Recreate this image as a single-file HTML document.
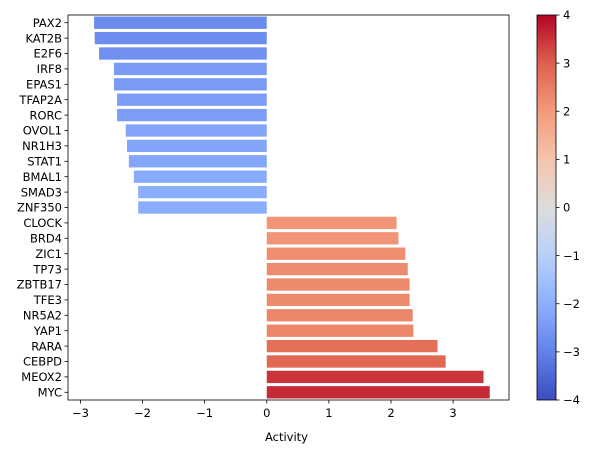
<!DOCTYPE html>
<html><head><meta charset="utf-8"><style>
body{margin:0;background:#fff;}
svg{font-family:"DejaVu Sans","Liberation Sans",sans-serif;}
</style></head><body>
<svg id="chart" width="595" height="453" xmlns="http://www.w3.org/2000/svg">
<defs><linearGradient id="cb" x1="0" y1="1" x2="0" y2="0">
<stop offset="0" stop-color="rgb(59,76,192)"/><stop offset="0.125" stop-color="rgb(98,130,234)"/>
<stop offset="0.25" stop-color="rgb(141,176,254)"/><stop offset="0.375" stop-color="rgb(184,208,249)"/>
<stop offset="0.5" stop-color="rgb(221,221,221)"/><stop offset="0.625" stop-color="rgb(245,196,173)"/>
<stop offset="0.75" stop-color="rgb(244,154,123)"/><stop offset="0.875" stop-color="rgb(222,96,77)"/>
<stop offset="1" stop-color="rgb(180,4,38)"/></linearGradient></defs>
<g id="bars"></g>
<g id="axes"></g>
</svg>
<script>
const categories=["PAX2","KAT2B","E2F6","IRF8","EPAS1","TFAP2A","RORC","OVOL1","NR1H3","STAT1","BMAL1","SMAD3","ZNF350","CLOCK","BRD4","ZIC1","TP73","ZBTB17","TFE3","NR5A2","YAP1","RARA","CEBPD","MEOX2","MYC"];
const activity=[-2.78,-2.77,-2.70,-2.46,-2.46,-2.41,-2.41,-2.27,-2.25,-2.22,-2.14,-2.07,-2.07,2.09,2.12,2.23,2.27,2.30,2.30,2.35,2.36,2.75,2.88,3.49,3.59];
const xTicks=[-3,-2,-1,0,1,2,3];
const cbTicks=[-4,-3,-2,-1,0,1,2,3,4];
const NS="http://www.w3.org/2000/svg";
const L=68,R=509,T=15,B=400,xmin=-3.2,xmax=3.9,vmin=-4,vmax=4;
const FS=11.5;
const xs=v=>L+(v-xmin)/(xmax-xmin)*(R-L);
const band=(B-T)/categories.length;
const stops=[[59,76,192],[98,130,234],[141,176,254],[184,208,249],[221,221,221],[245,196,173],[244,154,123],[222,96,77],[180,4,38]];
function cmap(v){let t=Math.max(0,Math.min(1,(v-vmin)/(vmax-vmin)))*8;let i=Math.min(7,Math.floor(t)),f=t-i;
const c=stops[i].map((a,k)=>Math.round(a+(stops[i+1][k]-a)*f));return `rgb(${c})`;}
function mk(tag,at,parent,txt){const e=document.createElementNS(NS,tag);for(const k in at)e.setAttribute(k,at[k]);if(txt!==undefined)e.textContent=txt;parent.appendChild(e);return e;}
const gb=document.getElementById('bars'),ga=document.getElementById('axes');
categories.forEach((c,i)=>{const v=activity[i];const cy=T+band*(i+0.5);const h=band*0.8;
const x0=xs(Math.min(0,v)),x1=xs(Math.max(0,v));
const r=mk('rect',{x:x0,y:cy-h/2,width:x1-x0,height:h,fill:cmap(v)},gb);


mk('line',{x1:L,x2:L-3.5,y1:cy,y2:cy,stroke:'#000','stroke-width':0.8},ga);
const t=mk('text',{x:L-6,y:cy+4.2,'text-anchor':'end','font-size':FS},ga,c);

});
xTicks.forEach(v=>{const x=xs(v);mk('line',{x1:x,x2:x,y1:B,y2:B+3.5,stroke:'#000','stroke-width':0.8},ga);
const t=mk('text',{x:x,y:B+17,'text-anchor':'middle','font-size':FS},ga,v<0?'\u2212'+(-v):String(v));

});
const f=mk('rect',{x:L,y:T,width:R-L,height:B-T,fill:'none',stroke:'#000','stroke-width':0.8},ga);


const xt=mk('text',{x:(L+R)/2-2,y:441,'text-anchor':'middle','font-size':FS},ga,'Activity');


const cb=mk('rect',{x:537,y:T,width:19,height:B-T,fill:'url(#cb)',stroke:'#000','stroke-width':0.8},ga);


cbTicks.forEach(v=>{const y=B-(v-vmin)/(vmax-vmin)*(B-T);mk('line',{x1:556,x2:559.5,y1:y,y2:y,stroke:'#000','stroke-width':0.8},ga);
const t=mk('text',{x:563,y:y+4.2,'font-size':FS},ga,v<0?'\u2212'+(-v):String(v));

});
</script>
</body></html>
